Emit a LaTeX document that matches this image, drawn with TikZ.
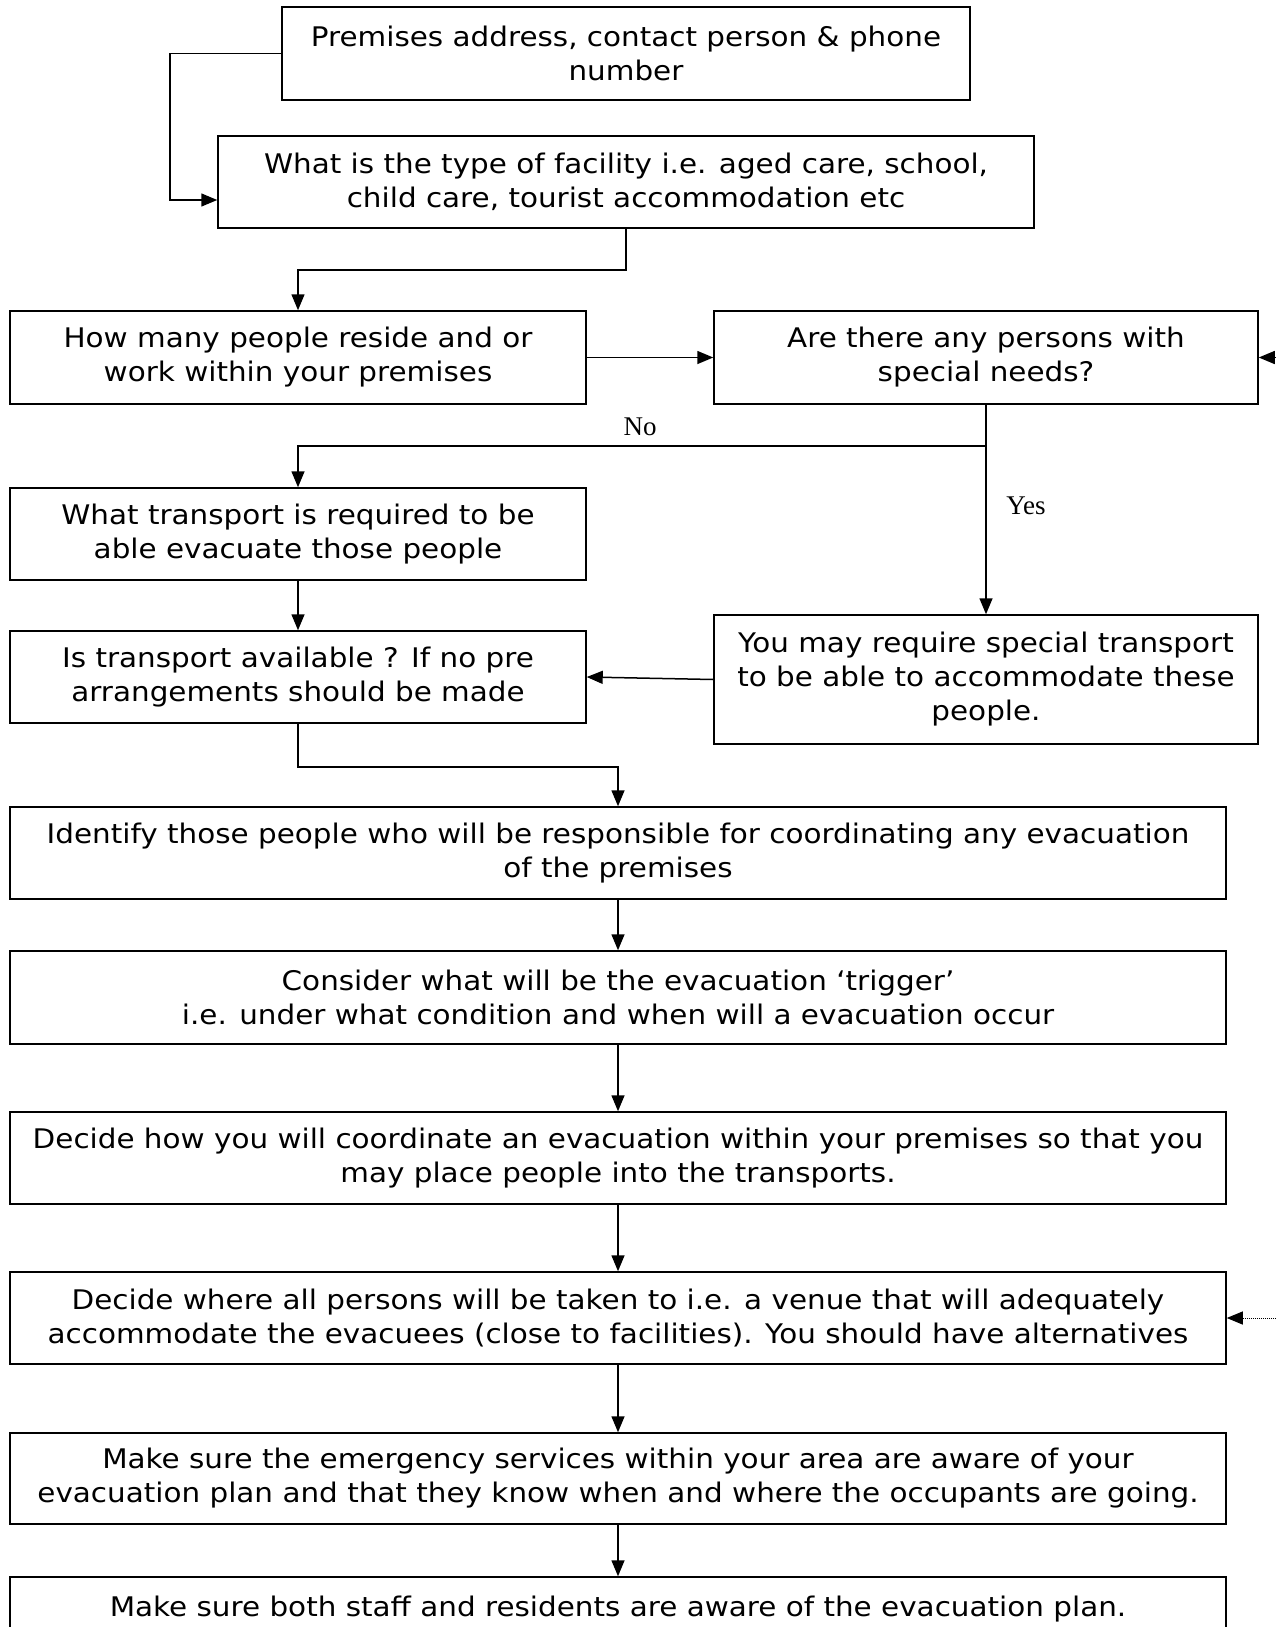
\documentclass[tikz,border=0pt]{standalone}
\usepackage{fontspec}
\setmainfont[FakeStretch=1.09]{DejaVu Sans}
\newfontfamily\lblfont{Liberation Serif}
\usetikzlibrary{arrows.meta}
\begin{document}
\begin{tikzpicture}[x=1pt,y=-1pt,
  box/.style={draw,line width=1.5pt,rectangle,align=center,inner sep=0pt,font=\fontsize{27}{34}\selectfont},
  arr/.style={line width=1.5pt,-{Triangle[length=16pt,width=13pt]}},
  ln/.style={line width=1.5pt},
  lbl/.style={font=\lblfont\fontsize{27}{30}\selectfont}]
\useasboundingbox (0,0) rectangle (1276,1627);
\clip (0,0) rectangle (1276,1627);
\node[box,minimum width=688pt,minimum height=93pt] (b1) at (626,53.5) {Premises address, contact person \& phone\\number};
\node[box,minimum width=816pt,minimum height=92pt] (b2) at (626,182) {What is the type of facility i.e. aged care, school,\\child care, tourist accommodation etc};
\node[box,minimum width=576pt,minimum height=93pt] (b3) at (298,357.5) {How many people reside and or\\work within your premises};
\node[box,minimum width=544pt,minimum height=93pt] (b4) at (986,357.5) {Are there any persons with\\special needs?};
\node[box,minimum width=576pt,minimum height=92pt] (b5) at (298,534) {What transport is required to be\\able evacuate those people};
\node[box,minimum width=576pt,minimum height=92pt] (b6) at (298,677) {Is transport available ? If no pre\\arrangements should be made};
\node[box,minimum width=544pt,minimum height=129pt] (b7) at (986,679.5) {You may require special transport\\to be able to accommodate these\\people.};
\node[box,minimum width=1216pt,minimum height=92pt] (b8) at (618,853) {Identify those people who will be responsible for coordinating any evacuation\\of the premises};
\node[box,minimum width=1216pt,minimum height=93pt] (b9) at (618,997.5) {Consider what will be the evacuation ‘trigger’\\i.e. under what condition and when will a evacuation occur};
\node[box,minimum width=1216pt,minimum height=92pt] (b10) at (618,1158) {Decide how you will coordinate an evacuation within your premises so that you\\may place people into the transports.};
\node[box,minimum width=1216pt,minimum height=92pt] (b11) at (618,1318) {Decide where all persons will be taken to i.e. a venue that will adequately\\accommodate the evacuees (close to facilities). You should have alternatives};
\node[box,minimum width=1216pt,minimum height=91pt] (b12) at (618,1478.5) {Make sure the emergency services within your area are aware of your\\evacuation plan and that they know when and where the occupants are going.};
\node[box,minimum width=1216pt,minimum height=92pt] (b13) at (618,1623) {Make sure both staff and residents are aware of the evacuation plan.\\\mbox{}};
% labels
\node[lbl] (no) at (640,427) {No};
\node[lbl] (yes) at (1026,506) {Yes};
% connectors
\coordinate (c1) at (170,53.5);
\draw[arr] (b1.west) -- (c1) |- ([yshift=-18pt]b2.west);
\draw[arr] (b2.south) -- ++(0,41) -| (b3.north);
\draw[arr] (b3.east) -- (b4.west);
\coordinate (r1) at (1276,357.5);
\draw[arr] (r1) -- (b4.east);
\coordinate (j1) at (986,446);
\draw[ln] (b4.south) -- (j1);
\draw[arr] (j1) -| (b5.north);
\draw[arr] (j1) -- (b7.north);
\draw[arr] (b5.south) -- (b6.north);
\draw[arr] (b7.west) -- (b6.east);
\draw[arr] (b6.south) -- ++(0,43) -| (b8.north);
\draw[arr] (b8.south) -- (b9.north);
\draw[arr] (b9.south) -- (b10.north);
\draw[arr] (b10.south) -- (b11.north);
\draw[arr] (b11.south) -- (b12.north);
\draw[arr] (b12.south) -- (b13.north);
\coordinate (r2) at (1276,1318);
\draw[line width=1pt,densely dotted,-{Triangle[length=16pt,width=13pt]}] (r2) -- (b11.east);
\end{tikzpicture}
\end{document}
